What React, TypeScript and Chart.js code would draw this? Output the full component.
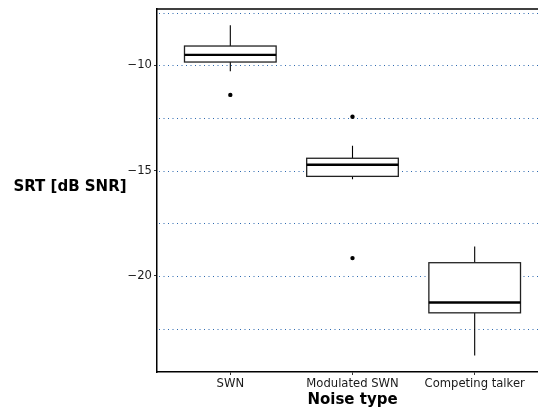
import React, { useEffect, useRef } from "react";
import { Chart, registerables } from "chart.js";

Chart.register(...registerables);

const categories = ["SWN", "Modulated SWN", "Competing talker"];
const whiskerLow = [-10.28, -15.41, -23.78];
const q1 = [-9.84, -15.27, -21.75];
const median = [-9.5, -14.72, -21.26];
const q3 = [-9.08, -14.41, -19.37];
const whiskerHigh = [-8.09, -13.81, -18.6];
const outlierCategory = [1, 2, 2];
const outlierValues = [-11.4, -12.44, -19.15];
const yGridValues = [-22.5, -20, -17.5, -15, -12.5, -10, -7.5];
const yLabelled = [-20, -15, -10];
const xTitle = "Noise type";
const yTitle = "SRT [dB SNR]";

const FONT = "'DejaVu Sans', Verdana, sans-serif";

const boxPlugin = {
  id: "boxPlugin",
  beforeDatasetsDraw(chart: any) {
    const { ctx, chartArea, scales } = chart;
    const xs = scales.x;
    const ys = scales.y;
    ctx.save();
    // dotted grid lines
    ctx.strokeStyle = "rgb(45,105,175)";
    ctx.lineWidth = 1.1;
    ctx.setLineDash([1, 3.5]);
    yGridValues.forEach((v) => {
      const y = Math.round(ys.getPixelForValue(v)) + 0.5;
      ctx.beginPath();
      ctx.moveTo(Math.round(chartArea.left) + 2, y);
      ctx.lineTo(chartArea.right, y);
      ctx.stroke();
    });
    ctx.setLineDash([]);
    // top panel line
    ctx.strokeStyle = "#000";
    ctx.lineWidth = 1.5;
    ctx.beginPath();
    ctx.moveTo(chartArea.left, chartArea.top);
    ctx.lineTo(chartArea.right, chartArea.top);
    ctx.stroke();
    // boxes
    categories.forEach((_, i) => {
      const c = i + 1;
      const xc = xs.getPixelForValue(c);
      const xl = xs.getPixelForValue(c - 0.375);
      const xr = xs.getPixelForValue(c + 0.375);
      const yWl = ys.getPixelForValue(whiskerLow[i]);
      const yWh = ys.getPixelForValue(whiskerHigh[i]);
      const yQ1 = ys.getPixelForValue(q1[i]);
      const yQ3 = ys.getPixelForValue(q3[i]);
      const yMed = ys.getPixelForValue(median[i]);
      ctx.strokeStyle = "#000";
      ctx.lineWidth = 1.1;
      ctx.beginPath();
      ctx.moveTo(xc, yWh);
      ctx.lineTo(xc, yQ3);
      ctx.moveTo(xc, yQ1);
      ctx.lineTo(xc, yWl);
      ctx.stroke();
      ctx.fillStyle = "#fff";
      ctx.fillRect(xl, yQ3, xr - xl, yQ1 - yQ3);
      ctx.strokeStyle = "#222";
      ctx.lineWidth = 1.3;
      ctx.strokeRect(xl, yQ3, xr - xl, yQ1 - yQ3);
      ctx.strokeStyle = "#000";
      ctx.lineWidth = 2.4;
      ctx.beginPath();
      ctx.moveTo(xl, yMed);
      ctx.lineTo(xr, yMed);
      ctx.stroke();
    });
    ctx.restore();
  },
  afterDraw(chart: any) {
    const { ctx, chartArea } = chart;
    ctx.save();
    ctx.fillStyle = "#000";
    ctx.font = `bold 15px ${FONT}`;
    ctx.textAlign = "center";
    ctx.textBaseline = "middle";
    ctx.fillText(yTitle, 70, (chartArea.top + chartArea.bottom) / 2 - 3);
    ctx.fillText(xTitle, chart.scales.x.getPixelForValue(2), 400);
    ctx.restore();
  },
};

export default function App() {
  const ref = useRef<HTMLCanvasElement | null>(null);
  useEffect(() => {
    if (!ref.current) return;
    const chart = new Chart(ref.current, {
      type: "scatter",
      data: {
        datasets: [
          {
            data: outlierValues.map((v, i) => ({ x: outlierCategory[i], y: v })),
            pointRadius: 2.2,
            pointBackgroundColor: "#000",
            pointBorderColor: "#000",
            pointBorderWidth: 0,
          },
        ],
      },
      options: {
        animation: false,
        responsive: false,
        devicePixelRatio: 1,
        layout: { padding: { left: 0, top: 6, right: 3, bottom: 0 } },
        plugins: { legend: { display: false }, tooltip: { enabled: false } },
        scales: {
          x: {
            type: "linear",
            min: 0.4,
            max: 3.6,
            afterBuildTicks: (s: any) => {
              s.ticks = categories.map((_, i) => ({ value: i + 1 }));
            },
            afterFit: (s: any) => {
              s.height = 38;
            },
            ticks: {
              callback: (v: any) => categories[Number(v) - 1] ?? "",
              font: { family: FONT, size: 11.6 },
              color: "#1a1a1a",
              padding: 2,
              maxRotation: 0,
              autoSkip: false,
            },
            grid: {
              drawOnChartArea: false,
              drawTicks: true,
              tickLength: 3,
              tickColor: "#333",
              tickWidth: 1,
            },
            border: { display: true, color: "#000", width: 1.5 },
          },
          y: {
            type: "linear",
            min: -24.56,
            max: -7.32,
            afterBuildTicks: (s: any) => {
              s.ticks = yGridValues.map((v) => ({ value: v }));
            },
            afterFit: (s: any) => {
              s.width = 157;
            },
            ticks: {
              callback: (v: any) =>
                yLabelled.includes(Number(v)) ? "\u2212" + Math.abs(Number(v)) : "",
              font: { family: FONT, size: 11.6 },
              color: "#1a1a1a",
              padding: 2,
              autoSkip: false,
            },
            grid: {
              drawOnChartArea: false,
              drawTicks: true,
              tickLength: 3,
              tickColor: (c: any) =>
                yLabelled.includes(c.tick?.value) ? "#333" : "rgba(0,0,0,0)",
              tickWidth: 1,
            },
            border: { display: true, color: "#000", width: 1.5 },
          },
        },
      },
      plugins: [boxPlugin],
    });
    return () => chart.destroy();
  }, []);
  return (
    <div
      style={{
        position: "fixed",
        left: 0,
        top: 0,
        width: 538,
        height: 410,
        overflow: "hidden",
        background: "#fff",
      }}
    >
      <canvas ref={ref} width={552} height={410} style={{ display: "block" }} />
    </div>
  );
}
